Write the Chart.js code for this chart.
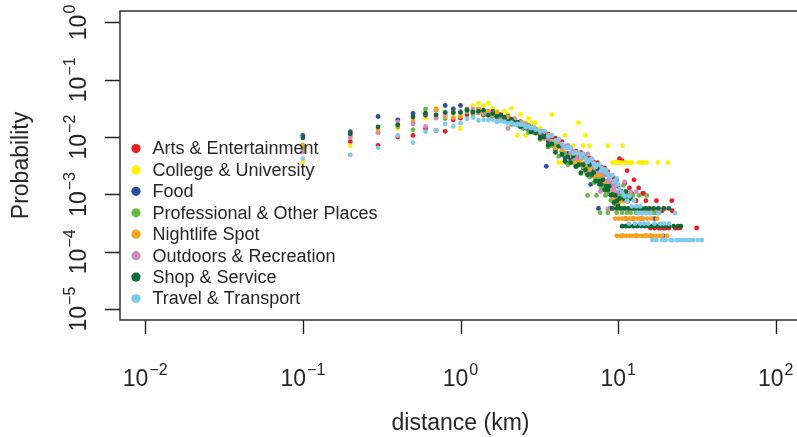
<!DOCTYPE html>
<html>
<head>
<meta charset="utf-8">
<script src="https://cdn.jsdelivr.net/npm/chart.js@4.4.1/dist/chart.umd.min.js"></script>
<style>
  html, body { margin: 0; padding: 0; background: #fff; overflow: hidden; }
  canvas { display: block; }
</style>
</head>
<body>
<canvas id="distChart" width="805" height="437"></canvas>
<script>
// Categorías (orden de la leyenda)
const categories = ['Arts & Entertainment', 'College & University', 'Food', 'Professional & Other Places',
  'Nightlife Spot', 'Outdoors & Recreation', 'Shop & Service', 'Travel & Transport'];

// Rejilla común de distancias (km)
const distKm = [0.1,0.2,0.3,0.4,0.5,0.6,0.7,0.8,0.9,1.0,
  1.1,1.2,1.3,1.4,1.5,1.6,1.7,1.8,1.9,2.0,2.1,2.2,2.3,2.4,2.5,2.6,2.7,2.8,2.9,3.0,
  3.2,3.4,3.6,3.8,4.0,4.2,4.4,4.6,4.8,5.0,5.2,5.4,5.6,5.8,6.0,6.2,6.4,6.6,6.8,7.0,
  7.2,7.4,7.6,7.8,8.0,8.2,8.4,8.6,8.8,9.0,9.2,9.4,9.6,9.8,10.0];

// Probabilidades sobre la rejilla (null = sin punto)
const artsProb = [0.0056,0.0083,0.0072,0.010,0.0107,0.014,0.013,0.0126,0.020,0.0214,
  0.0245,0.0263,0.0269,0.0240,0.0263,0.0224,0.0234,0.0209,0.0224,0.0200,0.0178,0.0191,0.0170,0.0182,0.0158,0.0162,0.0138,0.0155,0.0135,0.0138,
  0.0132,0.0110,0.0114,0.0093,0.0096,0.0077,0.0083,0.0068,0.0066,0.0066,0.0054,0.0057,0.0046,0.0054,0.0045,0.0046,0.0038,0.0043,0.0037,0.0037,
  0.0031,0.0036,0.0029,0.0030,0.0025,0.0029,0.0023,0.0025,0.0020,0.0021,0.0016,0.0019,0.0015,0.0018,0.0014];
const collegeProb = [0.0036,0.0071,0.0142,0.0142,0.0178,0.0213,0.032,0.0249,0.032,0.0142,
  0.0284,0.0355,0.039,0.0355,0.039,0.032,0.0284,0.0249,0.0284,0.0249,0.032,0.0213,0.0107,0.0249,0.0178,0.0107,0.0213,0.0178,0.0142,0.0178,
  0.0142,0.0107,0.0071,0.0249,0.0071,0.0036,0.0036,0.0107,0.0071,0.0036,0.0071,0.0036,0.0178,0.0036,0.0071,0.0107,null,0.0071,null,null,
  null,null,null,null,null,null,null,0.0071,null,null,0.0036,0.0036,0.0036,0.0036,0.0036];
const foodProb = [0.0107,0.0124,0.0229,0.020,0.026,0.024,0.030,0.0356,0.031,0.0356,
  0.0309,0.0288,0.0309,0.0269,0.0275,0.0282,0.0229,0.0246,0.0224,0.0230,0.0200,0.0199,0.0174,0.0186,0.0169,0.0144,0.0159,0.0141,0.0148,0.0126,
  0.0110,0.0115,0.0083,0.0087,0.0060,0.0072,0.0056,0.0044,0.0052,0.0040,0.0042,0.0031,0.0042,0.0033,0.0029,0.0035,0.0023,0.0027,0.0024,0.0027,
  0.0019,0.0021,0.0015,0.0020,0.0016,0.0017,0.0012,0.0016,0.0012,0.00097,0.0012,0.00095,0.00069,0.00093,0.00076];
const profProb = [0.0065,0.0105,0.0119,0.0151,0.0134,0.031,0.022,0.021,0.026,0.027,
  0.0275,0.0251,0.0288,0.0251,0.0282,0.0214,0.0240,0.0204,0.0209,0.0219,0.0166,0.0186,0.0162,0.0178,0.0141,0.0151,0.0121,0.0144,0.0120,0.0120,
  0.0091,0.0096,0.0067,0.0071,0.0073,0.0046,0.0050,0.0052,0.0033,0.0036,0.0039,0.0030,0.0032,0.0023,0.0030,0.0025,0.0029,0.0020,0.0022,0.0016,
  0.0020,0.0017,0.0019,0.0013,0.0014,0.0015,0.0010,0.0011,0.0012,0.00079,0.00099,0.00079,0.00087,0.00062,0.00071];
const nightProb = [0.0073,0.0105,0.0134,0.016,0.0192,0.026,0.030,0.0229,0.022,0.0229,
  0.0301,0.0275,0.0309,0.0275,0.0282,0.0246,0.0269,0.0235,0.0209,0.0224,0.0200,0.0209,0.0174,0.0182,0.0162,0.0173,0.0152,0.0138,0.0148,0.0135,
  0.0120,0.0094,0.0109,0.0085,0.0063,0.0076,0.0059,0.0068,0.0045,0.0050,0.0036,0.0048,0.0038,0.0041,0.0031,0.0034,0.0037,0.0027,0.0030,0.0021,
  0.0027,0.0022,0.0022,0.0016,0.0021,0.0017,0.0016,0.0012,0.0015,0.0012,0.00090,0.0011,0.00087,0.00071,0.00087];
const outdoorProb = [0.0056,0.0097,0.0119,0.0185,0.017,0.0154,0.0215,0.025,0.027,0.028,
  0.0288,0.0309,0.0263,0.0282,0.0251,0.0263,0.0219,0.0235,0.0214,0.0142,0.0200,0.0204,0.0174,0.0178,0.0151,0.0166,0.0148,0.0148,0.0129,0.0141,
  0.0126,0.0126,0.0095,0.0107,0.0085,0.0091,0.0066,0.0070,0.0072,0.0053,0.0057,0.0043,0.0053,0.0044,0.0051,0.0036,0.0051,0.0036,0.0032,0.0036,
  0.0025,0.0030,0.0025,0.0029,0.0019,0.0023,0.0022,0.0017,0.0019,0.0013,0.0015,0.0012,0.0014,0.00093,0.0011];
const shopProb = [0.0097,0.0114,0.0151,0.0164,0.0225,0.0262,0.0245,0.0271,0.027,0.027,
  0.0295,0.0275,0.0282,0.0295,0.0240,0.0257,0.0229,0.0240,0.0214,0.0187,0.0205,0.0178,0.0182,0.0151,0.0158,0.0144,0.0152,0.0123,0.0132,0.0118,
  0.0096,0.0100,0.0072,0.0076,0.0054,0.0069,0.0050,0.0038,0.0045,0.0036,0.0047,0.0031,0.0033,0.0024,0.0033,0.0027,0.0022,0.0033,0.0022,0.0024,
  0.0017,0.0028,0.0017,0.0015,0.0018,0.0012,0.0014,0.0012,0.0014,0.00097,0.0010,0.00072,0.00096,0.00077,0.00063];
const travelProb = [0.0042,0.0049,0.0065,0.0107,0.0080,0.0124,0.0131,0.0170,0.0154,0.0176,
  0.0209,0.0218,0.0195,0.0200,0.0199,0.0200,0.0182,0.0191,0.0186,0.0174,0.0178,0.0166,0.0170,0.0166,0.0165,0.0148,0.0155,0.0144,0.0148,0.0135,
  0.0129,0.0126,0.0104,0.0107,0.0087,0.0091,0.0076,0.0065,0.0066,0.0066,0.0052,0.0054,0.0053,0.0046,0.0051,0.0043,0.0037,0.0040,0.0042,0.0034,
  0.0030,0.0033,0.0033,0.0026,0.0028,0.0025,0.0027,0.0023,0.0020,0.0021,0.0022,0.0017,0.0017,0.0019,0.0015];

// Puntos sueltos y colas (distancias largas, niveles discretos)
const artsTailKm = [10.2,10.6,11.0,11.4,11.8,12.2,12.6,13.0,13.5,14.0,14.3,14.5,15.0,15.5,16.0,16.5,17.0,17.5,18.0,18.5,
  19.0,19.5,20.0,21.0,21.9,22.0,23.0,24.0,24.7,31.5];
const artsTailProb = [0.0042,0.0039,0.00156,0.0026,0.0013,0.00104,0.0018,0.00078,0.0013,0.00052,0.00104,0.00104,0.00078,0.00052,
  0.00026,0.00052,0.00026,0.00078,0.00026,0.00026,0.00052,0.00026,0.00026,0.00026,0.00078,0.00052,0.00026,0.00026,0.00026,0.00026];
const collegeTailKm = [10.2,10.5,10.7,11.0,11.3,11.6,12.0,12.2,13.5,14.0,14.5,15.2,17.9,20.7];
const collegeTailProb = [0.0036,0.0036,0.0071,0.0036,0.0036,0.0036,0.0036,0.0036,0.0036,0.0036,0.0036,0.0036,0.0036,0.0036];
const foodTailKm = [3.5,4.7,6.7,7.5,8.9,10.2,10.5,10.7,11.2,11.5,12.0,12.5,13.0,14.0,15.0,16.0,17.0,19.3];
const foodTailProb = [0.0031,0.0036,0.0015,0.00057,0.00057,0.00076,0.00057,0.00019,0.00038,0.00076,0.00057,0.00038,0.00019,
  0.00038,0.00019,0.00019,0.00038,0.00019];
const profTailKm = [6.4,7.3,8.3,7.7,8.6,9.8,10.3,10.8,11.2,11.7,12.4,10.6,11.4,12.0,13.0,13.6,14.0,14.6,15.2,15.8,16.4,17.0,17.6,18.2];
const profTailProb = [0.00096,0.00096,0.00096,0.00048,0.00048,0.00048,0.00096,0.00144,0.00096,0.00096,0.00096,0.00048,0.00048,
  0.00048,0.00048,0.00096,0.00048,0.00048,0.00096,0.00048,0.00048,0.00048,0.00048,0.00048];
const nightTailKm = [9.4,10.0,10.4,11.0,11.6,12.2,10.2,10.8,11.4,
  9.6,10.1,10.6,11.1,11.7,12.1,12.6,13.2,13.8,14.5,15.3,16.2,17.7,
  9.8,10.3,10.8,11.3,11.8,12.3,12.8,13.4,14.0,14.6,15.2,15.9,16.6,17.4,18.2,19.0,20.5];
const nightTailProb = [0.00057,0.00057,0.00057,0.00057,0.00057,0.00057,0.00076,0.00076,0.00076,
  0.00038,0.00038,0.00038,0.00038,0.00038,0.00038,0.00038,0.00038,0.00038,0.00038,0.00038,0.00038,0.00038,
  0.00019,0.00019,0.00019,0.00019,0.00019,0.00019,0.00019,0.00019,0.00019,0.00019,0.00019,0.00019,0.00019,0.00019,0.00019,0.00019,0.00019];
const outdoorTailKm = [7.7,8.6,9.5,10.5,11.0,12.0,13.0,10.3,11.0,11.7,12.4,13.2,14.0,15.0,16.0,17.2,18.4,19.8];
const outdoorTailProb = [0.00112,0.00056,0.00112,0.00112,0.00168,0.00112,0.00112,0.00056,0.00056,0.00056,0.00056,0.00056,
  0.00056,0.00056,0.00056,0.00056,0.00056,0.00056];
const shopTailKm = [10.5,11.2,10.2,10.8,11.4,12.0,
  9.2,9.8,10.4,11.0,11.6,12.2,12.8,13.5,14.2,15.0,15.8,16.8,18.0,19.5,21.0,
  10.6,11.2,11.8,12.5,13.2,14.0,14.8,15.6,16.5,17.5,18.5,19.6,21.0,22.5,24.0,25.0];
const shopTailProb = [0.00113,0.00113,0.00085,0.00085,0.00085,0.00085,
  0.00057,0.00057,0.00057,0.00057,0.00057,0.00057,0.00057,0.00057,0.00057,0.00057,0.00057,0.00057,0.00057,0.00057,0.00057,
  0.00028,0.00028,0.00028,0.00028,0.00028,0.00028,0.00028,0.00028,0.00028,0.00028,0.00028,0.00028,0.00028,0.00028,0.00028,0.00028];
const travelTailKm = [10.2,10.6,11.0,11.4,11.8,12.2,12.6,13.0,13.4,13.8,14.2,14.6,15.0,15.5,16.0,16.5,17.0,17.5,18.0,18.5,
  19.0,19.5,20.0,21.0,21.5,22.0,23.0,23.5,24.0,25.0,26.0,27.0,28.0,29.0,30.0,32.0,34.0,11.7,12.8,13.8];
const travelTailProb = [0.00124,0.00109,0.00093,0.00078,0.00093,0.00062,0.00078,0.00062,0.00047,0.00062,0.00047,0.00031,0.00047,
  0.00031,0.00047,0.00016,0.00031,0.00016,0.00047,0.00031,0.00016,0.00031,0.00016,0.00031,0.00016,0.00016,0.00047,0.00016,
  0.00016,0.00016,0.00016,0.00016,0.00016,0.00016,0.00016,0.00016,0.00016,0.00031,0.00031,0.00031];

// Marcas de los ejes (exponentes de 10)
const xTickExp = [-2, -1, 0, 1, 2];
const yTickExp = [0, -1, -2, -3, -4, -5];

const gridProbs = [artsProb, collegeProb, foodProb, profProb, nightProb, outdoorProb, shopProb, travelProb];
const tailKm = [artsTailKm, collegeTailKm, foodTailKm, profTailKm, nightTailKm, outdoorTailKm, shopTailKm, travelTailKm];
const tailProbs = [artsTailProb, collegeTailProb, foodTailProb, profTailProb, nightTailProb, outdoorTailProb, shopTailProb, travelTailProb];

const colors = ['#ec1c24', '#fff000', '#2b4e9f', '#6ab945', '#f7a11e', '#d18cc0', '#0f6a35', '#7ecbec'];
const FONT = '"Liberation Sans", Arial, Helvetica, sans-serif';
const INK = '#262626';

function buildPoints(i) {
  const pts = [];
  distKm.forEach((d, k) => { if (gridProbs[i][k] != null) pts.push({ x: d, y: gridProbs[i][k] }); });
  tailKm[i].forEach((d, k) => pts.push({ x: d, y: tailProbs[i][k] }));
  return pts;
}

// "10" con exponente en superíndice, centrado en cx
function drawPow(ctx, e, cx, by) {
  const base = '10';
  const sup = e < 0 ? '\u2212' + (-e) : String(e);
  ctx.font = '23px ' + FONT;
  const wb = ctx.measureText(base).width;
  ctx.font = '16px ' + FONT;
  const ws = ctx.measureText(sup).width;
  const x0 = cx - (wb + ws + 1) / 2;
  ctx.textAlign = 'left';
  ctx.textBaseline = 'alphabetic';
  ctx.font = '23px ' + FONT;
  ctx.fillText(base, x0, by);
  ctx.font = '16px ' + FONT;
  ctx.fillText(sup, x0 + wb + 1, by - 11);
}

// Ejes, caja y leyenda al estilo R
const rStyle = {
  id: 'rStyle',
  afterDraw(chart) {
    const ctx = chart.ctx;
    const a = chart.chartArea;
    const xs = chart.scales.x, ys = chart.scales.y;
    ctx.save();
    ctx.strokeStyle = '#222';
    ctx.lineWidth = 1.4;
    ctx.strokeRect(a.left, a.top, a.right - a.left, a.bottom - a.top);
    ctx.beginPath();
    xTickExp.forEach(e => {
      const px = Math.round(xs.getPixelForValue(Math.pow(10, e))) + 0.5;
      ctx.moveTo(px, a.bottom);
      ctx.lineTo(px, a.bottom + 14);
    });
    yTickExp.forEach(e => {
      const py = Math.round(ys.getPixelForValue(Math.pow(10, e))) + 0.5;
      ctx.moveTo(a.left - 15, py);
      ctx.lineTo(a.left, py);
    });
    ctx.stroke();

    ctx.fillStyle = INK;
    xTickExp.forEach(e => drawPow(ctx, e, xs.getPixelForValue(Math.pow(10, e)), 386));
    yTickExp.forEach(e => {
      ctx.save();
      ctx.translate(86, ys.getPixelForValue(Math.pow(10, e)));
      ctx.rotate(-Math.PI / 2);
      drawPow(ctx, e, 0, 0);
      ctx.restore();
    });

    ctx.font = '23px ' + FONT;
    ctx.textAlign = 'center';
    ctx.textBaseline = 'alphabetic';
    ctx.fillText('distance (km)', (a.left + a.right) / 2, 430);
    ctx.save();
    ctx.translate(28, (a.top + a.bottom) / 2);
    ctx.rotate(-Math.PI / 2);
    ctx.fillText('Probability', 0, 0);
    ctx.restore();

    // Leyenda sin marco
    ctx.font = '18px ' + FONT;
    ctx.textAlign = 'left';
    ctx.textBaseline = 'middle';
    categories.forEach((c, i) => {
      const cy = 148.5 + 21.43 * i;
      ctx.fillStyle = colors[i];
      ctx.beginPath();
      ctx.arc(136, cy, 4.6, 0, Math.PI * 2);
      ctx.fill();
      ctx.fillStyle = INK;
      ctx.fillText(c, 152.5, cy + 1);
    });
    ctx.restore();
  }
};

new Chart(document.getElementById('distChart'), {
  type: 'scatter',
  data: {
    datasets: categories.map((c, i) => ({
      label: c,
      data: buildPoints(i),
      backgroundColor: colors[i],
      borderWidth: 0,
      pointRadius: 2.4,
      order: categories.length - i
    }))
  },
  options: {
    responsive: false,
    animation: false,
    events: [],
    layout: { padding: { top: 11, right: 4, left: 0, bottom: 0 } },
    plugins: { legend: { display: false }, tooltip: { enabled: false } },
    scales: {
      x: {
        type: 'logarithmic',
        bounds: 'data',
        min: Math.pow(10, -2.16),
        max: Math.pow(10, 2.16),
        grid: { display: false },
        border: { display: false },
        ticks: { display: false },
        afterBuildTicks: s => { s.ticks = xTickExp.map(e => ({ value: Math.pow(10, e) })); },
        afterFit: s => { s.height = 117; }
      },
      y: {
        type: 'logarithmic',
        bounds: 'data',
        min: Math.pow(10, -5.19),
        max: Math.pow(10, 0.2),
        grid: { display: false },
        border: { display: false },
        ticks: { display: false },
        afterBuildTicks: s => { s.ticks = yTickExp.map(e => ({ value: Math.pow(10, e) })); },
        afterFit: s => { s.width = 120; }
      }
    }
  },
  plugins: [rStyle]
});
</script>
</body>
</html>
